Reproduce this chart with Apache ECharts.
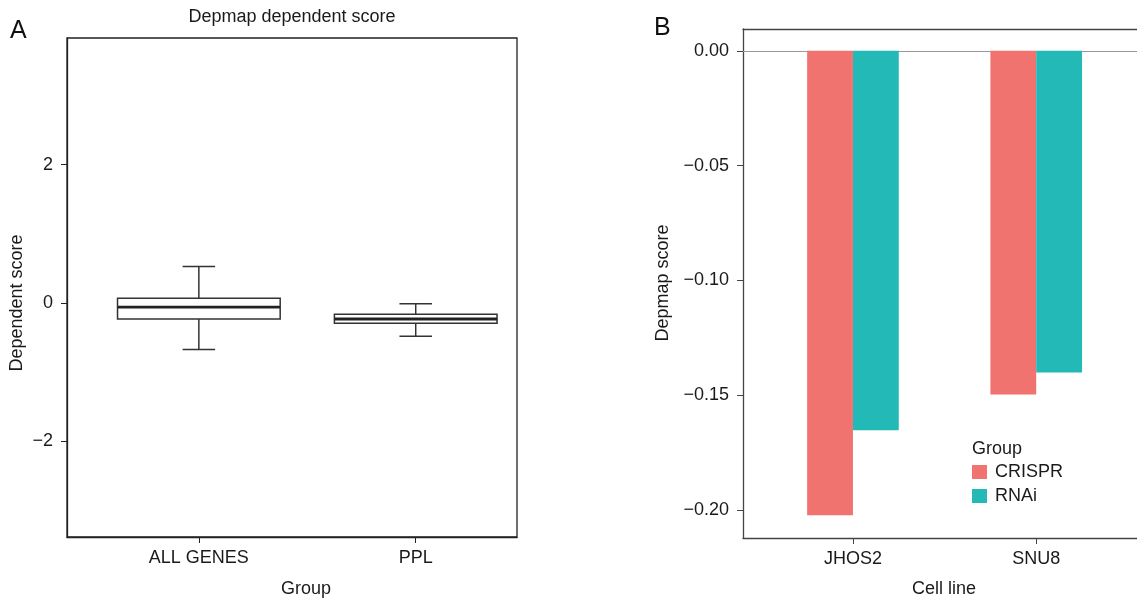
<!DOCTYPE html>
<html>
<head>
<meta charset="utf-8">
<script src="https://cdn.jsdelivr.net/npm/echarts@6/dist/echarts.min.js"></script>
<style>html,body{margin:0;padding:0;background:#fff}#c{width:1137px;height:598px}</style>
</head>
<body>
<div id="c"></div>
<script>
// ---- Panel A data (box plot) ----
var boxCategories = ['ALL GENES', 'PPL'];
// [lower whisker, Q1, median, Q3, upper whisker]
var boxAllGenes = [-0.67, -0.23, -0.06, 0.07, 0.53];
var boxPPL = [-0.48, -0.29, -0.23, -0.16, -0.01];
var boxYTicks = [-2, 0, 2];

// ---- Panel B data (bars) ----
var cellLines = ['JHOS2', 'SNU8'];
var crisprScores = [-0.2024, -0.1498];
var rnaiScores = [-0.1653, -0.1402];
var barYTicks = [0, -0.05, -0.10, -0.15, -0.20];

var FONT = 'Liberation Sans, Arial, Helvetica, sans-serif';
var TXT = '#1a1a1a';
var CRISPR_COLOR = '#F0736F';
var RNAI_COLOR = '#22B9B6';
var FS = 18;

function fmtMinus(v, d) {
  var s = Math.abs(v).toFixed(d);
  return (v < -1e-9 ? '\u2212' : '') + s;
}

var boxData = [boxAllGenes, boxPPL].map(function (s, i) {
  return [i + 1].concat(s);
});

function renderBox(params, api) {
  var x = api.value(0);
  var lo = api.value(1), q1 = api.value(2), med = api.value(3), q3 = api.value(4), hi = api.value(5);
  var halfW = api.size([0.75, 0])[0] / 2;
  var capHalf = api.size([0.15, 0])[0] / 2;
  var pLo = api.coord([x, lo]), pQ1 = api.coord([x, q1]), pMed = api.coord([x, med]);
  var pQ3 = api.coord([x, q3]), pHi = api.coord([x, hi]);
  var cx = pLo[0];
  var st = { stroke: '#333', lineWidth: 1.5, fill: null };
  return {
    type: 'group',
    children: [
      { type: 'line', shape: { x1: cx, y1: pHi[1], x2: cx, y2: pQ3[1] }, style: st },
      { type: 'line', shape: { x1: cx, y1: pQ1[1], x2: cx, y2: pLo[1] }, style: st },
      { type: 'line', shape: { x1: cx - capHalf, y1: pHi[1], x2: cx + capHalf, y2: pHi[1] }, style: st },
      { type: 'line', shape: { x1: cx - capHalf, y1: pLo[1], x2: cx + capHalf, y2: pLo[1] }, style: st },
      { type: 'rect', shape: { x: cx - halfW, y: pQ3[1], width: 2 * halfW, height: pQ1[1] - pQ3[1] }, style: { stroke: '#333', lineWidth: 1.5, fill: '#fff' } },
      { type: 'line', shape: { x1: cx - halfW, y1: pMed[1], x2: cx + halfW, y2: pMed[1] }, style: { stroke: '#222', lineWidth: 2.8 } }
    ]
  };
}

function makeBarRenderer(side) {
  return function (params, api) {
    var x = api.value(0), v = api.value(1);
    var w = api.size([0.25, 0])[0];
    var p0 = api.coord([x, 0]);
    var p1 = api.coord([x, v]);
    var left = side < 0 ? p0[0] - w : p0[0];
    return {
      type: 'rect',
      shape: { x: left, y: p0[1], width: w, height: p1[1] - p0[1] },
      style: { fill: api.visual('color') }
    };
  };
}

var crisprData = crisprScores.map(function (v, i) { return [i + 1, v]; });
var rnaiData = rnaiScores.map(function (v, i) { return [i + 1, v]; });

var chart = echarts.init(document.getElementById('c'), null, { renderer: 'canvas' });
chart.setOption({
  backgroundColor: '#fff',
  animation: false,
  textStyle: { fontFamily: FONT },
  grid: [
    { left: 67, top: 38, width: 450, height: 499, show: true, borderColor: '#222', borderWidth: 1.3, backgroundColor: 'transparent' },
    { left: 743, top: 29, right: 0, height: 509, show: false }
  ],
  xAxis: [
    {
      gridIndex: 0, type: 'value', min: 0.392, max: 2.467,
      axisLine: { show: true, onZero: false, lineStyle: { color: '#222', width: 1.3 } },
      axisTick: { show: true, length: 6, customValues: [1, 2], lineStyle: { color: '#222' } },
      axisLabel: {
        customValues: [1, 2], margin: 12, color: TXT, fontSize: FS, fontFamily: FONT,
        formatter: function (v) { return boxCategories[Math.round(v) - 1] || ''; }
      },
      splitLine: { show: false }
    },
    {
      gridIndex: 1, type: 'value', min: 0.4, max: 2.55,
      axisLine: { show: true, onZero: false, lineStyle: { color: '#444', width: 1.3 } },
      axisTick: { show: true, length: 6, customValues: [1, 2], lineStyle: { color: '#444' } },
      axisLabel: {
        customValues: [1, 2], margin: 12, color: TXT, fontSize: FS, fontFamily: FONT,
        formatter: function (v) { return cellLines[Math.round(v) - 1] || ''; }
      },
      splitLine: { show: false }
    },
    {
      gridIndex: 1, type: 'value', position: 'top', min: 0.4, max: 2.55,
      axisLine: { show: true, onZero: false, lineStyle: { color: '#444', width: 1.3 } },
      axisTick: { show: false }, axisLabel: { show: false }, splitLine: { show: false }
    }
  ],
  yAxis: [
    {
      gridIndex: 0, type: 'value', min: -3.38, max: 3.83,
      axisLine: { show: true, onZero: false, lineStyle: { color: '#222', width: 1.3 } },
      axisTick: { show: true, length: 6, customValues: boxYTicks, lineStyle: { color: '#222' } },
      axisLabel: {
        customValues: boxYTicks, margin: 14, color: TXT, fontSize: FS, fontFamily: FONT,
        formatter: function (v) { return fmtMinus(v, 0); }
      },
      splitLine: { show: false }
    },
    {
      gridIndex: 1, type: 'value', min: -0.2123, max: 0.0095,
      axisLine: { show: true, onZero: false, lineStyle: { color: '#444', width: 1.3 } },
      axisTick: { show: true, length: 6, customValues: barYTicks, lineStyle: { color: '#444' } },
      axisLabel: {
        customValues: barYTicks, margin: 14, color: TXT, fontSize: FS, fontFamily: FONT,
        formatter: function (v) { return fmtMinus(v, 2); }
      },
      splitLine: { show: false }
    }
  ],
  legend: {
    orient: 'vertical', left: 972, top: 463, padding: 0,
    itemWidth: 15, itemHeight: 14, itemGap: 6,
    icon: 'rect',
    data: ['CRISPR', 'RNAi'],
    textStyle: { fontSize: FS, color: TXT, fontFamily: FONT, padding: [0, 0, 0, 3] }
  },
  series: [
    {
      name: 'box', type: 'custom', xAxisIndex: 0, yAxisIndex: 0,
      renderItem: renderBox, data: boxData, encode: { x: 0, y: [1, 2, 3, 4, 5] }, z: 3
    },
    {
      name: 'CRISPR', type: 'custom', xAxisIndex: 1, yAxisIndex: 1,
      itemStyle: { color: CRISPR_COLOR },
      renderItem: makeBarRenderer(-1), data: crisprData, encode: { x: 0, y: 1 }, z: 2,
      markLine: {
        silent: true, symbol: 'none', label: { show: false },
        lineStyle: { color: '#999', width: 1, type: 'solid' },
        data: [{ yAxis: 0 }], z: 1
      }
    },
    {
      name: 'RNAi', type: 'custom', xAxisIndex: 1, yAxisIndex: 1,
      itemStyle: { color: RNAI_COLOR },
      renderItem: makeBarRenderer(1), data: rnaiData, encode: { x: 0, y: 1 }, z: 2
    }
  ],
  graphic: [
    { type: 'text', left: 10, top: 19, style: { text: 'A', fontSize: 25, fill: '#111', fontFamily: FONT } },
    { type: 'text', left: 654, top: 16, style: { text: 'B', fontSize: 25, fill: '#111', fontFamily: FONT } },
    { type: 'text', x: 292, y: 17, style: { text: 'Depmap dependent score', fontSize: FS, fill: TXT, fontFamily: FONT, align: 'center', verticalAlign: 'middle' } },
    { type: 'text', x: 306, y: 589, style: { text: 'Group', fontSize: FS, fill: TXT, fontFamily: FONT, align: 'center', verticalAlign: 'middle' } },
    { type: 'text', x: 944, y: 589, style: { text: 'Cell line', fontSize: FS, fill: TXT, fontFamily: FONT, align: 'center', verticalAlign: 'middle' } },
    { type: 'text', x: 17, y: 303, rotation: Math.PI / 2, style: { text: 'Dependent score', fontSize: FS, fill: TXT, fontFamily: FONT, align: 'center', verticalAlign: 'middle' } },
    { type: 'text', x: 663, y: 283, rotation: Math.PI / 2, style: { text: 'Depmap score', fontSize: FS, fill: TXT, fontFamily: FONT, align: 'center', verticalAlign: 'middle' } },
    { type: 'text', left: 972, top: 440, style: { text: 'Group', fontSize: FS, fill: TXT, fontFamily: FONT } }
  ]
});
</script>
</body>
</html>
